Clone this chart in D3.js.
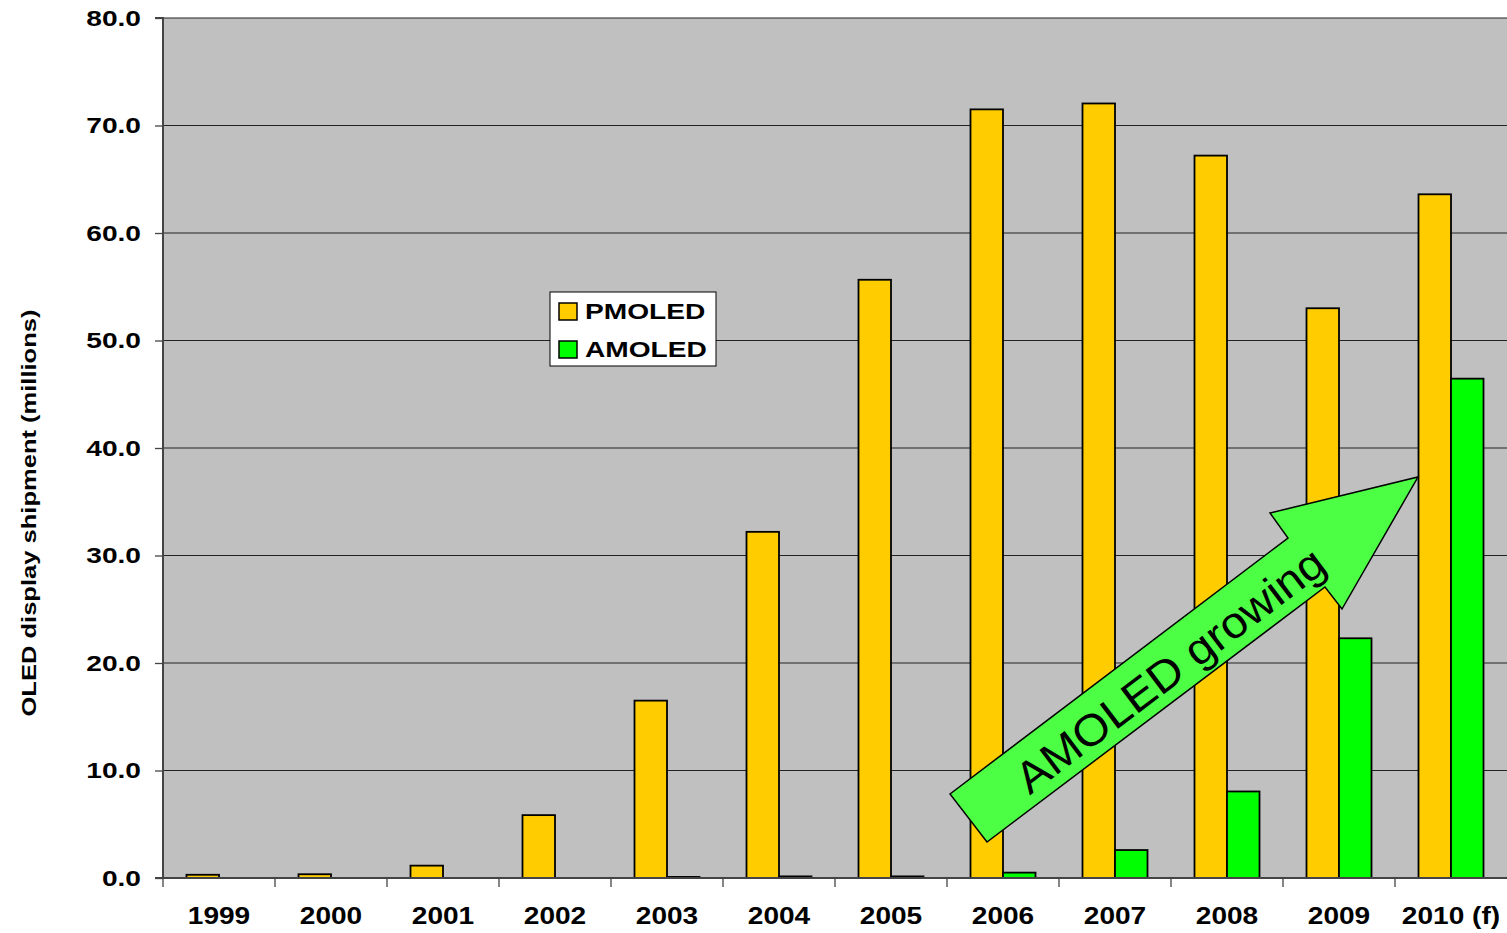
<!DOCTYPE html>
<html>
<head>
<meta charset="utf-8">
<script src="https://cdn.jsdelivr.net/npm/d3@7/dist/d3.min.js"></script>
<style>
  html, body { margin: 0; padding: 0; background: #ffffff; }
  svg { display: block; }
  text { font-family: "Liberation Sans", Arial, sans-serif; }
</style>
</head>
<body>
<svg id="chart" width="1507" height="933"></svg>
<script>
// OLED display shipments by year, millions of units
const years = ["1999", "2000", "2001", "2002", "2003", "2004", "2005", "2006", "2007", "2008", "2009", "2010 (f)"];
const pmoled = [0.3, 0.35, 1.15, 5.85, 16.5, 32.2, 55.65, 71.5, 72.05, 67.2, 53.0, 63.6];
const amoled = [0, 0, 0, 0, 0.1, 0.15, 0.15, 0.5, 2.6, 8.05, 22.3, 46.45];
const seriesNames = ["PMOLED", "AMOLED"];
const seriesColors = ["#ffcc00", "#00ff00"];
const yTicks = [0, 10, 20, 30, 40, 50, 60, 70, 80];

const svg = d3.select("#chart");
const plotLeft = 163, plotRight = 1507, plotTop = 18, plotBottom = 878;
const WIDE = 1.25; // labels are set in a widened bold face

// stretch a text element along its own direction
function widen(sel, k) {
  sel.each(function () {
    const len = this.getComputedTextLength();
    d3.select(this).attr("textLength", len * k).attr("lengthAdjust", "spacingAndGlyphs");
  });
}

const x = d3.scaleBand().domain(years).range([plotLeft, plotRight]).paddingInner(0).paddingOuter(0);
const y = d3.scaleLinear().domain([0, 80]).range([plotBottom, plotTop]);
const inner = d3.scaleBand().domain(seriesNames).range([0, x.bandwidth()]).paddingInner(0).paddingOuter(0.723);

// plot background
svg.append("rect")
  .attr("x", plotLeft).attr("y", plotTop)
  .attr("width", plotRight - plotLeft).attr("height", plotBottom - plotTop)
  .attr("fill", "#c0c0c0");

// horizontal gridlines
svg.append("g")
  .selectAll("line")
  .data(yTicks.filter(d => d > 0))
  .join("line")
  .attr("x1", plotLeft).attr("x2", plotRight)
  .attr("y1", d => y(d)).attr("y2", d => y(d))
  .attr("stroke", "#222").attr("stroke-width", 1.2);

// bars
const groups = svg.append("g")
  .selectAll("g")
  .data(years.map((yr, i) => ({ yr, vals: [pmoled[i], amoled[i]] })))
  .join("g")
  .attr("transform", d => `translate(${x(d.yr)},0)`);

groups.selectAll("rect")
  .data(d => d.vals.map((v, j) => ({ v, j })).filter(e => e.v > 0))
  .join("rect")
  .attr("x", e => inner(seriesNames[e.j]))
  .attr("width", inner.bandwidth())
  .attr("y", e => y(e.v))
  .attr("height", e => y(0) - y(e.v))
  .attr("fill", e => seriesColors[e.j])
  .attr("stroke", "#000").attr("stroke-width", 1.8);

// y axis
const yAxis = d3.axisLeft(y).tickValues(yTicks).tickFormat(d3.format(".1f")).tickSize(8).tickPadding(14);
const yg = svg.append("g").attr("transform", `translate(${plotLeft},0)`).call(yAxis);
yg.select(".domain").attr("stroke", "#444").attr("stroke-width", 2).attr("d", `M-8,${plotTop}H0V${plotBottom}`);
yg.selectAll(".tick line").attr("stroke", "#444").attr("stroke-width", 1.3);
yg.selectAll(".tick text")
  .attr("font-size", 22.5).attr("font-weight", "bold").attr("fill", "#000")
  .attr("font-family", "'Liberation Sans', Arial, sans-serif")
  .call(widen, WIDE);

// x axis: ticks sit on the category boundaries
const xg = svg.append("g").attr("transform", `translate(0,${plotBottom})`);
xg.append("line").attr("x1", plotLeft - 8).attr("x2", plotRight).attr("y1", 0).attr("y2", 0)
  .attr("stroke", "#444").attr("stroke-width", 2);
xg.selectAll("line.tk")
  .data(years)
  .join("line").attr("class", "tk")
  .attr("x1", d => x(d)).attr("x2", d => x(d))
  .attr("y1", 0).attr("y2", 9)
  .attr("stroke", "#444").attr("stroke-width", 1.3);
xg.selectAll("text")
  .data(years)
  .join("text")
  .attr("x", d => x(d) + x.bandwidth() / 2)
  .attr("y", 46)
  .attr("text-anchor", "middle")
  .attr("font-size", 23).attr("font-weight", "bold").attr("fill", "#000")
  .text(d => d)
  .call(widen, 1.22);

// y axis title
svg.append("text")
  .attr("transform", `translate(36,513) rotate(-90)`)
  .attr("text-anchor", "middle")
  .attr("font-size", 20.5).attr("font-weight", "bold").attr("fill", "#000")
  .text("OLED display shipment (millions)")
  .attr("textLength", 407).attr("lengthAdjust", "spacingAndGlyphs");

// legend
const lg = svg.append("g").attr("transform", "translate(550,292)");
lg.append("rect").attr("x", 0).attr("y", 0).attr("width", 166).attr("height", 74)
  .attr("fill", "#fff").attr("stroke", "#000").attr("stroke-width", 1);
seriesNames.forEach((name, i) => {
  const cy = 19 + i * 38;
  lg.append("rect").attr("x", 9).attr("y", cy - 8).attr("width", 18).attr("height", 17)
    .attr("fill", seriesColors[i]).attr("stroke", "#000").attr("stroke-width", 1.5);
  lg.append("text").attr("x", 35).attr("y", cy + 8)
    .attr("font-size", 22.5).attr("font-weight", "bold").attr("fill", "#000")
    .text(name)
    .call(widen, WIDE);
});

// "AMOLED growing" arrow
const arrowPts = [[950, 794], [1288, 538], [1270, 513], [1418, 477], [1342, 609], [1325, 587], [987, 842]];
svg.append("path")
  .attr("d", d3.line()(arrowPts) + "Z")
  .attr("fill", "#4cff44").attr("stroke", "#000").attr("stroke-width", 1.5)
  .attr("stroke-linejoin", "miter");
svg.append("text")
  .attr("transform", "translate(1170,670) rotate(-37.1)")
  .attr("text-anchor", "middle").attr("dominant-baseline", "central")
  .attr("font-family", "'Open Sans', 'Noto Sans', sans-serif")
  .attr("font-size", 44).attr("fill", "#000")
  .attr("textLength", 375).attr("lengthAdjust", "spacingAndGlyphs")
  .text("AMOLED growing");
</script>
</body>
</html>
